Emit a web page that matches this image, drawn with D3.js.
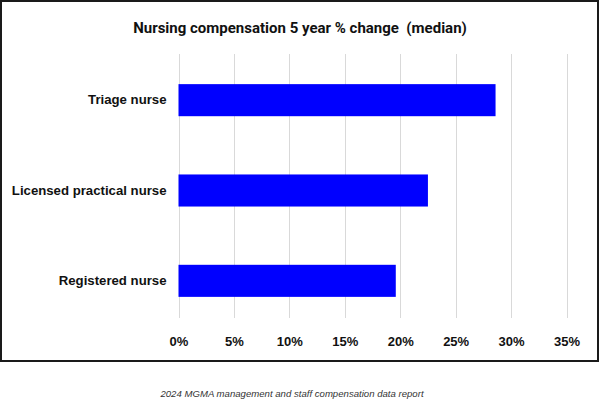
<!DOCTYPE html>
<html>
<head>
<meta charset="utf-8">
<script src="https://cdn.jsdelivr.net/npm/d3@7"></script>
<style>
  html, body { margin: 0; padding: 0; background: #fff; }
  svg { display: block; }
</style>
</head>
<body>
<svg id="chart" width="600" height="419"></svg>
<script>
const categories = ["Triage nurse", "Licensed practical nurse", "Registered nurse"];
const values = [28.6, 22.5, 19.6];
const tickValues = [0, 5, 10, 15, 20, 25, 30, 35];
const titleText = "Nursing compensation 5 year % change  (median)";
const captionText = "2024 MGMA management and staff compensation data report";

const svg = d3.select("#chart");

// frame
svg.append("rect")
  .attr("x", 1).attr("y", 1)
  .attr("width", 597).attr("height", 360)
  .attr("fill", "#fff")
  .attr("stroke", "#1a1a1a")
  .attr("stroke-width", 2);

const x = d3.scaleLinear().domain([0, 35]).range([178.5, 566.5]);
const y = d3.scaleBand().domain(categories).range([55, 326]).paddingInner(0.645).paddingOuter(0.3225);

const gridTop = 54, gridBottom = 318;

// gridlines
svg.append("g").selectAll("line")
  .data(tickValues)
  .join("line")
  .attr("x1", d => Math.round(x(d)) + 0.5)
  .attr("x2", d => Math.round(x(d)) + 0.5)
  .attr("y1", gridTop)
  .attr("y2", gridBottom)
  .attr("stroke", "#d9d9d9")
  .attr("stroke-width", 1);

// bars
svg.append("g").selectAll("rect")
  .data(categories)
  .join("rect")
  .attr("x", x(0))
  .attr("y", d => y(d))
  .attr("width", (d, i) => x(values[i]) - x(0))
  .attr("height", y.bandwidth())
  .attr("fill", "#0000ff");

// x axis
const xAxis = d3.axisBottom(x).tickValues(tickValues).tickFormat(d => d + "%").tickSize(0).tickPadding(0);
const gx = svg.append("g").attr("transform", `translate(0, ${gridBottom + 18})`).call(xAxis);
gx.select(".domain").remove();
gx.selectAll("text")
  .attr("dy", "0.32em")
  .attr("y", 6)
  .attr("font-family", "Liberation Sans, Arial, sans-serif")
  .attr("font-weight", "bold")
  .attr("font-size", 13)
  .attr("fill", "#111");

// y axis
const yAxis = d3.axisLeft(y).tickSize(0).tickPadding(12);
const gy = svg.append("g").attr("transform", `translate(${x(0)}, 0)`).call(yAxis);
gy.select(".domain").remove();
gy.selectAll("text")
  .attr("font-family", "Liberation Sans, Arial, sans-serif")
  .attr("font-weight", "bold")
  .attr("font-size", 13.2)
  .attr("fill", "#111");

// title
svg.append("text")
  .attr("x", 300).attr("y", 29)
  .attr("text-anchor", "middle")
  .attr("dominant-baseline", "middle")
  .style("white-space", "pre")
  .attr("font-family", "Roboto, Liberation Sans, sans-serif")
  .attr("font-weight", "bold")
  .attr("font-size", 15)
  .attr("fill", "#111")
  .text(titleText);

// caption
svg.append("text")
  .attr("x", 292).attr("y", 394)
  .attr("text-anchor", "middle")
  .attr("dominant-baseline", "middle")
  .attr("font-family", "Liberation Sans, Arial, sans-serif")
  .attr("font-style", "italic")
  .attr("font-size", 9.6)
  .attr("fill", "#333")
  .text(captionText);
</script>
</body>
</html>
